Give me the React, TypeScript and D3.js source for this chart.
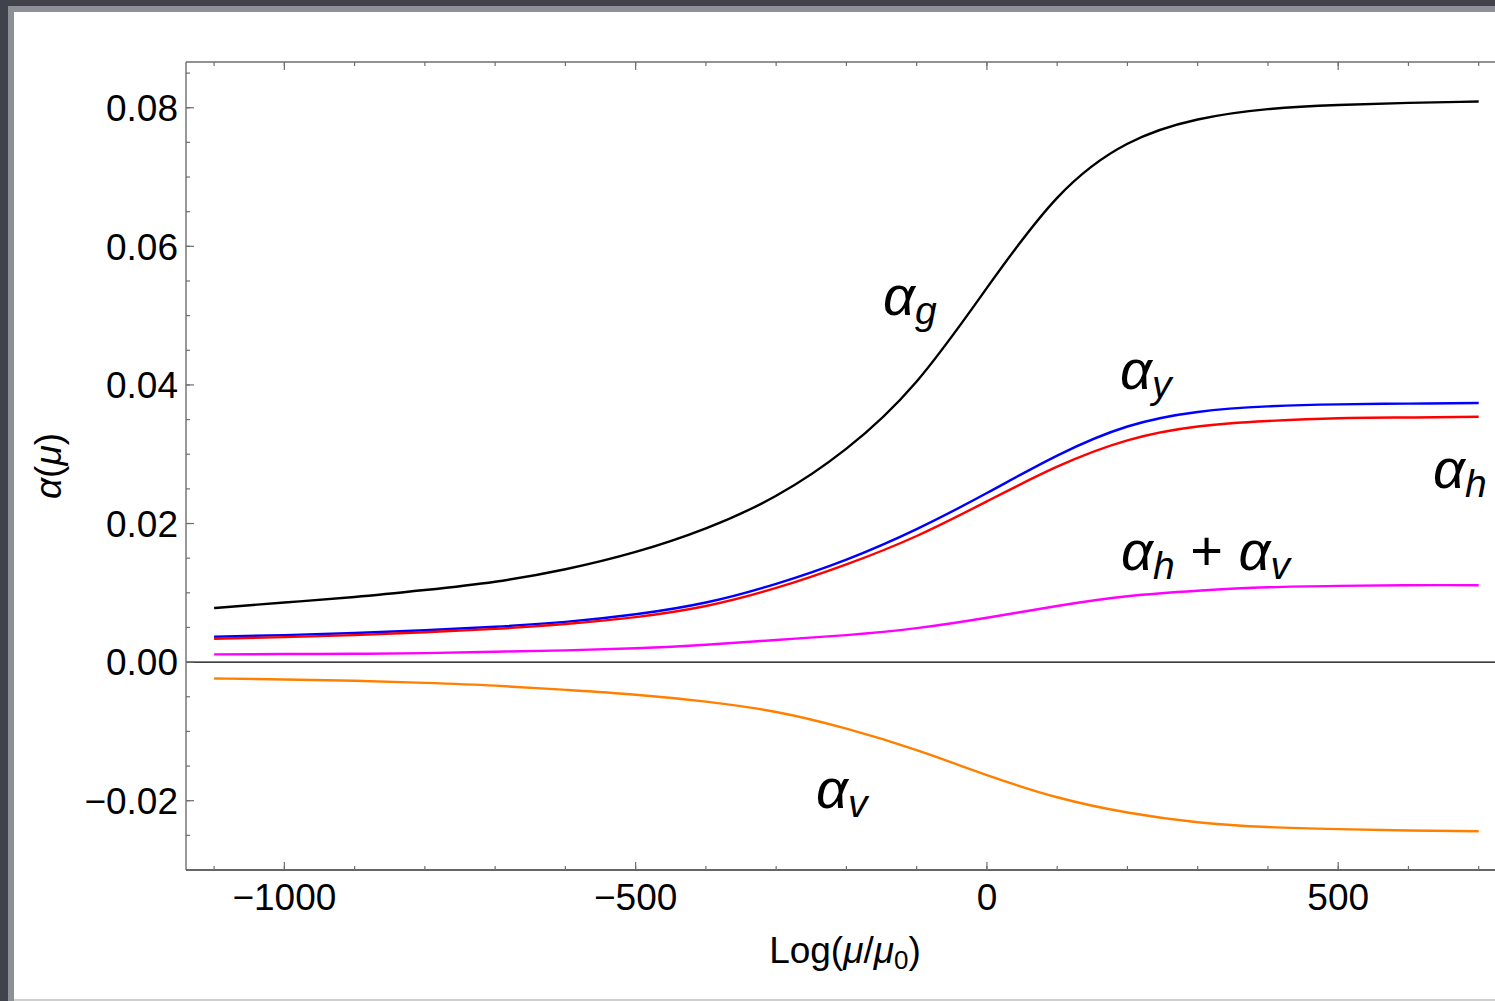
import * as d3 from 'd3';

// x positions of the sampled points, Log(mu/mu0)
const xVals = [-1100, -1000, -900, -800, -700, -600, -500, -400, -300, -200, -100, 0, 100, 200, 300, 400, 500, 600, 700];

// couplings
const alphaG = [0.0078, 0.0086, 0.0094, 0.0104, 0.0116, 0.0134, 0.0159, 0.0193, 0.0240, 0.0308, 0.0405, 0.0540, 0.0670, 0.0748, 0.0783, 0.0798, 0.0804, 0.0807, 0.0809];
const alphaY = [0.00366, 0.0039, 0.0042, 0.0046, 0.0051, 0.0058, 0.0069, 0.0086, 0.0113, 0.0148, 0.0192, 0.0244, 0.0298, 0.0340, 0.0361, 0.0369, 0.0372, 0.0373, 0.0374];
const alphaH = [0.00337, 0.0036, 0.0039, 0.0043, 0.0048, 0.0055, 0.0065, 0.0081, 0.0107, 0.0141, 0.0182, 0.0232, 0.0282, 0.0320, 0.0340, 0.0348, 0.0352, 0.0353, 0.0354];
const alphaHV = [0.00111, 0.00116, 0.0012, 0.0013, 0.0015, 0.0017, 0.002, 0.0025, 0.0032, 0.0039, 0.0049, 0.0064, 0.0081, 0.0095, 0.0103, 0.0108, 0.011, 0.0111, 0.0111];
const alphaV = [-0.00236, -0.0025, -0.0027, -0.003, -0.0034, -0.004, -0.0047, -0.0057, -0.0072, -0.0096, -0.0127, -0.0163, -0.0195, -0.0217, -0.0231, -0.0238, -0.0241, -0.0243, -0.0244];

const xTicks = [-1000, -500, 0, 500];
const xTickLabels = ['\u22121000', '\u2212500', '0', '500'];
const xMinor = d3.range(-1100, 701, 100);
const yTicks = [-0.02, 0, 0.02, 0.04, 0.06, 0.08];
const yTickLabels = ['\u22120.02', '0.00', '0.02', '0.04', '0.06', '0.08'];
const yMinor = d3.range(-0.03, 0.0851, 0.005);

const series = [
    { values: alphaG, color: '#000000' },
    { values: alphaY, color: '#0000ff' },
    { values: alphaH, color: '#ff0000' },
    { values: alphaHV, color: '#ff00ff' },
    { values: alphaV, color: '#ff8000' },
];

const W = 1495;
const H = 1001;
const font = '"Liberation Sans", Arial, Helvetica, sans-serif';

export default function App() {
    const left = 186, right = 1504, top = 62, bottom = 870;

    const x = d3.scaleLinear().domain([-1140, 736]).range([left, right]);
    const y = d3.scaleLinear().domain([-0.03, 0.0866]).range([bottom, top]);

    const line = d3.line<number>()
        .x((_, i) => x(xVals[i]))
        .y(d => y(d))
        .curve(d3.curveNatural);

    const frame = '#6e6e6e';
    const subDy = 9;

    return (
        <svg width={W} height={H} style={{ position: 'absolute', left: 0, top: 0 }} fontFamily={font}>
            {/* backdrop */}
            <rect x={0} y={0} width={W} height={H} fill="#40434b" />
            <rect x={8} y={6} width={W} height={H} fill="#8d9096" />
            <rect x={14} y={999} width={W} height={2} fill="#cfcfcf" />
            <rect x={14} y={12} width={W} height={987} fill="#ffffff" />

            {/* zero line */}
            <line x1={left} x2={right} y1={y(0)} y2={y(0)} stroke="#000" strokeWidth={1.2} />

            {/* curves */}
            {series.map((s, i) => (
                <path key={i} d={line(s.values) || ''} fill="none" stroke={s.color} strokeWidth={2.4} />
            ))}

            {/* frame */}
            <line x1={left} x2={right} y1={top} y2={top} stroke={frame} strokeWidth={1.4} />
            <line x1={left} x2={left} y1={top} y2={bottom} stroke={frame} strokeWidth={1.4} />
            <line x1={left} x2={right} y1={bottom} y2={bottom} stroke="#333" strokeWidth={1.6} />

            {/* x ticks, bottom and top */}
            {xMinor.map(v => (
                <g key={'xm' + v} stroke={frame} strokeWidth={1.2}>
                    <line x1={x(v)} x2={x(v)} y1={bottom} y2={bottom - 4} />
                    <line x1={x(v)} x2={x(v)} y1={top} y2={top + 4} />
                </g>
            ))}
            {xTicks.map(v => (
                <g key={'xt' + v} stroke={frame} strokeWidth={1.2}>
                    <line x1={x(v)} x2={x(v)} y1={bottom} y2={bottom - 8} />
                    <line x1={x(v)} x2={x(v)} y1={top} y2={top + 8} />
                </g>
            ))}
            {xTicks.map((v, i) => (
                <text key={'xl' + v} x={x(v)} y={910} textAnchor="middle" fontSize={37} fill="#000">
                    {xTickLabels[i]}
                </text>
            ))}

            {/* y ticks */}
            {yMinor.map(v => (
                <line key={'ym' + v} x1={left} x2={left + 4} y1={y(v)} y2={y(v)} stroke={frame} strokeWidth={1.2} />
            ))}
            {yTicks.map(v => (
                <line key={'yt' + v} x1={left} x2={left + 8} y1={y(v)} y2={y(v)} stroke={frame} strokeWidth={1.2} />
            ))}
            {yTicks.map((v, i) => (
                <text key={'yl' + v} x={178} y={y(v)} dy="0.36em" textAnchor="end" fontSize={37} fill="#000">
                    {yTickLabels[i]}
                </text>
            ))}

            {/* axis titles */}
            <text x={(left + right) / 2} y={963} textAnchor="middle" fontSize={37} fill="#000">
                Log(<tspan fontStyle="italic">μ</tspan>/<tspan fontStyle="italic">μ</tspan>
                <tspan fontSize={26} dy={6}>0</tspan>
                <tspan dy={-6}>)</tspan>
            </text>
            <text transform={`translate(61,${(top + bottom) / 2}) rotate(-90)`} textAnchor="middle" fontSize={37} fill="#000">
                <tspan fontStyle="italic">α</tspan>(<tspan fontStyle="italic">μ</tspan>)
            </text>

            {/* curve labels */}
            <g fontSize={56} fontStyle="italic" fill="#000">
                <text x={883} y={315}>α<tspan fontSize={39} dy={subDy}>g</tspan></text>
                <text x={1120} y={389}>α<tspan fontSize={39} dy={subDy}>y</tspan></text>
                <text x={1433} y={488}>α<tspan fontSize={39} dy={subDy}>h</tspan></text>
                <text x={1121} y={570}>
                    <tspan>α</tspan>
                    <tspan fontSize={39} dy={subDy}>h</tspan>
                    <tspan fontStyle="normal" dy={-subDy}>{' + '}</tspan>
                    <tspan>α</tspan>
                    <tspan fontSize={39} dy={subDy}>v</tspan>
                </text>
                <text x={816} y={808}>α<tspan fontSize={39} dy={subDy}>v</tspan></text>
            </g>
        </svg>
    );
}
